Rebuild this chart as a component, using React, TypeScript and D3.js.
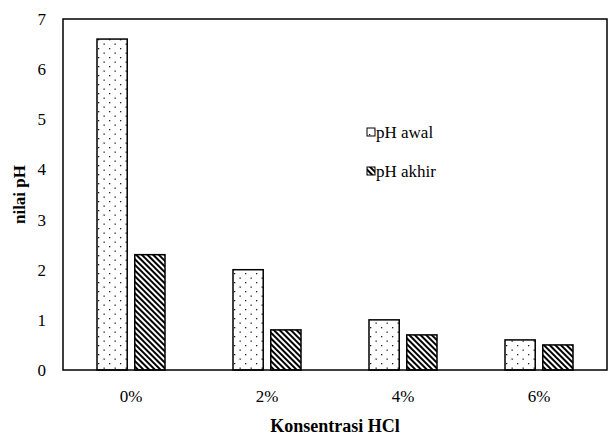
import React, { useEffect, useRef } from "react";
import * as d3 from "d3";

const categories = ["0%", "2%", "4%", "6%"];
const seriesNames = ["pH awal", "pH akhir"];
const phAwal = [6.6, 2.0, 1.0, 0.6];
const phAkhir = [2.3, 0.8, 0.7, 0.5];
const yTicks = [0, 1, 2, 3, 4, 5, 6, 7];

const App = () => {
  const ref = useRef<SVGSVGElement | null>(null);

  const width = 608;
  const height = 439;
  const margin = { top: 19, right: 1, bottom: 69, left: 63 };

  useEffect(() => {
    drawChart();
  }, []);

  function drawChart() {
    const svg = d3.select(ref.current);
    svg.selectAll("*").remove();

    const font = "'Times New Roman', 'Liberation Serif', 'DejaVu Serif', serif";
    const innerW = width - margin.left - margin.right;
    const innerH = height - margin.top - margin.bottom;

    // patterns
    const defs = svg.append("defs");
    const dots = defs
      .append("pattern")
      .attr("id", "dots")
      .attr("patternUnits", "userSpaceOnUse")
      .attr("width", 11)
      .attr("height", 9);
    dots.append("rect").attr("width", 11).attr("height", 9).attr("fill", "#fff");
    dots.append("rect").attr("x", 2).attr("y", 2).attr("width", 1.3).attr("height", 1.3).attr("fill", "#222");
    dots.append("rect").attr("x", 7.5).attr("y", 6.5).attr("width", 1.3).attr("height", 1.3).attr("fill", "#222");

    const hatch = defs
      .append("pattern")
      .attr("id", "hatch")
      .attr("patternUnits", "userSpaceOnUse")
      .attr("width", 4)
      .attr("height", 4)
      .attr("patternTransform", "rotate(-45)");
    hatch.append("rect").attr("width", 4).attr("height", 4).attr("fill", "#fff");
    hatch.append("rect").attr("width", 2).attr("height", 4).attr("fill", "#000");

    const fills = ["url(#dots)", "url(#hatch)"];

    const g = svg
      .append("g")
      .attr("transform", `translate(${margin.left}, ${margin.top})`)
      .style("font-family", font);

    const x0 = d3.scaleBand().domain(categories).range([0, innerW]).padding(0);
    const bw = x0.bandwidth();
    const x1 = d3
      .scaleBand()
      .domain(seriesNames)
      .range([bw * 0.25, bw * 0.75])
      .paddingInner(0.2);
    const y = d3.scaleLinear().domain([0, 7]).range([innerH, 0]);

    const rows = categories.map((c, i) => ({
      cat: c,
      vals: [phAwal[i], phAkhir[i]],
    }));

    // bars
    const groups = g
      .selectAll("g.grp")
      .data(rows)
      .enter()
      .append("g")
      .attr("class", "grp")
      .attr("transform", (d) => `translate(${x0(d.cat)}, 0)`);

    groups
      .selectAll("rect")
      .data((d) => d.vals.map((v, j) => ({ v, j })))
      .enter()
      .append("rect")
      .attr("x", (d) => x1(seriesNames[d.j]) as number)
      .attr("y", (d) => y(d.v))
      .attr("width", x1.bandwidth())
      .attr("height", (d) => innerH - y(d.v))
      .attr("fill", (d) => fills[d.j])
      .attr("stroke", "#000")
      .attr("stroke-width", 1.5);

    // frame
    g.append("rect")
      .attr("x", 0)
      .attr("y", 0)
      .attr("width", innerW)
      .attr("height", innerH)
      .attr("fill", "none")
      .attr("stroke", "#000")
      .attr("stroke-width", 1.5);

    // y tick labels
    g.selectAll("text.ytick")
      .data(yTicks)
      .enter()
      .append("text")
      .attr("class", "ytick")
      .attr("x", -17)
      .attr("y", (d) => y(d))
      .attr("dy", "0.35em")
      .attr("text-anchor", "end")
      .style("font-size", "17px")
      .text((d) => d);

    // x tick labels
    g.selectAll("text.xtick")
      .data(categories)
      .enter()
      .append("text")
      .attr("class", "xtick")
      .attr("x", (d) => (x0(d) as number) + bw / 2)
      .attr("y", innerH + 32)
      .attr("text-anchor", "middle")
      .style("font-size", "17px")
      .text((d) => d);

    // axis titles
    g.append("text")
      .attr("x", innerW / 2)
      .attr("y", innerH + 62)
      .attr("text-anchor", "middle")
      .style("font-size", "18px")
      .style("font-weight", "bold")
      .text("Konsentrasi HCl");

    g.append("text")
      .attr("transform", `translate(${-38}, ${innerH / 2}) rotate(-90)`)
      .attr("text-anchor", "middle")
      .style("font-size", "17px")
      .style("font-weight", "bold")
      .text("nilai pH");

    // legend
    const legend = svg
      .append("g")
      .attr("transform", `translate(367, 132)`)
      .style("font-family", font);
    const item = legend
      .selectAll("g")
      .data(seriesNames)
      .enter()
      .append("g")
      .attr("transform", (_, i) => `translate(0, ${i * 39})`);
    item
      .append("rect")
      .attr("x", 0)
      .attr("y", -4)
      .attr("width", 8)
      .attr("height", 8)
      .attr("fill", (_, i) => fills[i])
      .attr("stroke", "#000")
      .attr("stroke-width", 1);
    item
      .append("text")
      .attr("x", 9)
      .attr("y", 0)
      .attr("dy", "0.35em")
      .style("font-size", "17px")
      .text((d) => d);
  }

  return (
    <svg
      ref={ref}
      width={width}
      height={height}
      style={{ position: "absolute", left: 0, top: 0, background: "#fff" }}
    />
  );
};

export default App;
